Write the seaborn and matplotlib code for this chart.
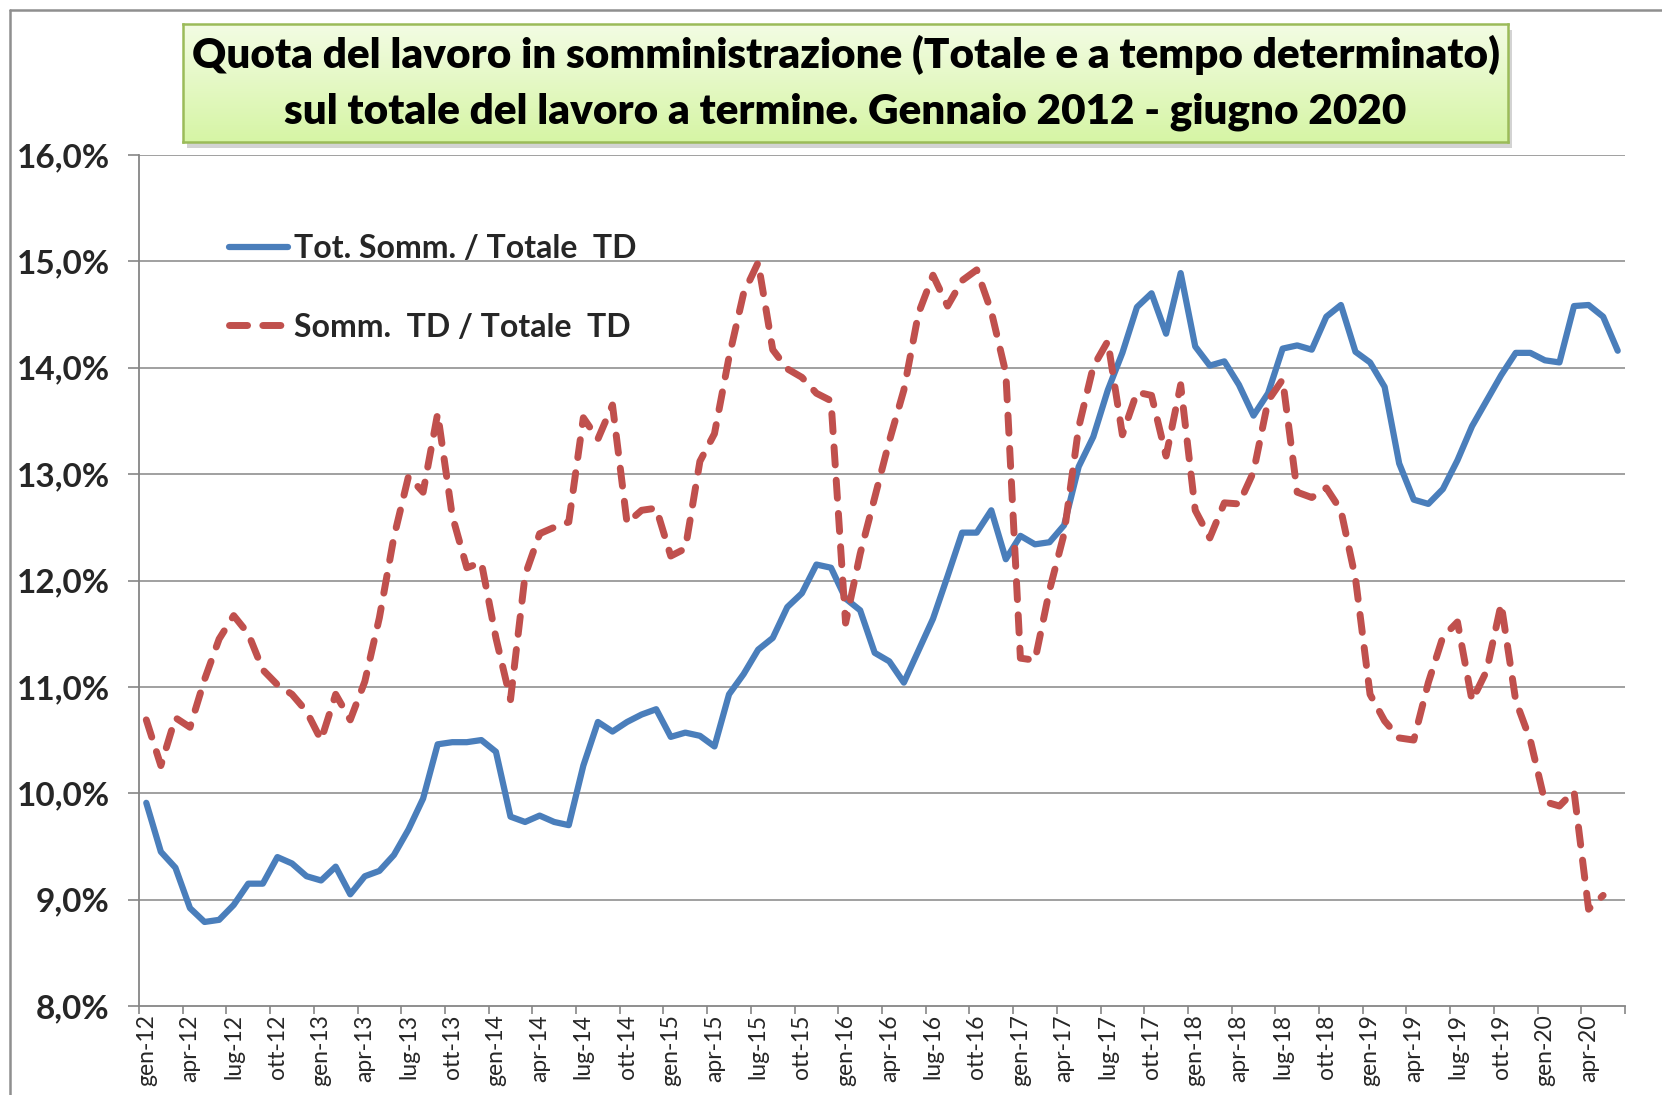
import numpy as np
import pandas as pd
import matplotlib
matplotlib.use("Agg")
import matplotlib.pyplot as plt
import seaborn as sns
from matplotlib.lines import Line2D
from matplotlib.colors import LinearSegmentedColormap

# ---------------- data ----------------
months_it = ["gen", "feb", "mar", "apr", "mag", "giu", "lug", "ago", "set", "ott", "nov", "dic"]
years = list(range(12, 21))
categories = [f"{m}-{y}" for y in years for m in months_it][:102]   # gen-12 .. giu-20

tot_somm_td = [
    9.91, 9.45, 9.30, 8.92, 8.79, 8.81, 8.95, 9.15, 9.15, 9.40, 9.34, 9.22,
    9.18, 9.31, 9.05, 9.22, 9.27, 9.42, 9.66, 9.95, 10.46, 10.48, 10.48, 10.50,
    10.39, 9.78, 9.73, 9.79, 9.73, 9.70, 10.26, 10.67, 10.58, 10.67, 10.74, 10.79,
    10.53, 10.57, 10.54, 10.44, 10.93, 11.12, 11.35, 11.46, 11.75, 11.88, 12.15, 12.12,
    11.83, 11.72, 11.32, 11.24, 11.04, 11.34, 11.64, 12.04, 12.45, 12.45, 12.66, 12.20,
    12.42, 12.34, 12.36, 12.52, 13.07, 13.35, 13.79, 14.14, 14.57, 14.70, 14.32, 14.89,
    14.20, 14.02, 14.06, 13.84, 13.55, 13.76, 14.18, 14.21, 14.17, 14.48, 14.59, 14.15,
    14.05, 13.82, 13.10, 12.76, 12.72, 12.86, 13.13, 13.45, 13.69, 13.93, 14.14, 14.14,
    14.07, 14.05, 14.58, 14.59, 14.48, 14.16,
]

somm_td_td = [
    10.69, 10.26, 10.71, 10.62, 11.07, 11.45, 11.67, 11.50, 11.16, 11.02, 10.93, 10.77,
    10.50, 10.93, 10.69, 11.05, 11.65, 12.41, 12.98, 12.83, 13.57, 12.61, 12.12, 12.17,
    11.46, 10.88, 12.05, 12.44, 12.50, 12.55, 13.53, 13.33, 13.65, 12.54, 12.66, 12.68,
    12.23, 12.30, 13.12, 13.38, 14.10, 14.70, 14.99, 14.17, 13.99, 13.91, 13.76, 13.69,
    11.60, 12.25, 12.78, 13.31, 13.79, 14.51, 14.87, 14.58, 14.82, 14.92, 14.53, 13.95,
    11.27, 11.25, 11.91, 12.44, 13.44, 14.01, 14.25, 13.37, 13.77, 13.74, 13.17, 13.84,
    12.66, 12.40, 12.73, 12.72, 13.02, 13.69, 13.89, 12.83, 12.78, 12.87, 12.66, 12.02,
    10.93, 10.68, 10.52, 10.50, 11.04, 11.47, 11.61, 10.87, 11.15, 11.78, 10.87, 10.50,
    9.92, 9.88, 10.02, 8.91, 9.04,
]

y_ticks = [8, 9, 10, 11, 12, 13, 14, 15, 16]
series_names = ["Tot. Somm. / Totale  TD", "Somm.  TD / Totale  TD"]
title_text = ("Quota del lavoro in somministrazione (Totale e a tempo determinato)\n"
              "sul totale del lavoro a termine. Gennaio 2012 - giugno 2020")

# ---------------- styling ----------------
sns.set_style("white")
FONT = ["Lato", "DejaVu Sans"]
plt.rcParams["font.family"] = FONT

W, H, DPI = 1662, 1095, 100
fig = plt.figure(figsize=(W / DPI, H / DPI), dpi=DPI)
fig.patch.set_facecolor("white")

ax = fig.add_axes([139 / W, 1 - 1006 / H, (1625 - 139) / W, (1006 - 155) / H])

df_tot = pd.DataFrame({"idx": np.arange(len(tot_somm_td)), "val": tot_somm_td})
df_td = pd.DataFrame({"idx": np.arange(len(somm_td_td)), "val": somm_td_td})

BLUE = "#4A7EBB"
RED = "#C0504D"
GRID = "#868686"

sns.lineplot(data=df_tot, x="idx", y="val", ax=ax, color=BLUE, linewidth=4.5,
             label=series_names[0], solid_capstyle="round", solid_joinstyle="round")
sns.lineplot(data=df_td, x="idx", y="val", ax=ax, color=RED, linewidth=5.0,
             label=series_names[1])
red_line = ax.lines[1]
red_line.set_dashes((2.6, 2.2))
red_line.set_dash_capstyle("round")
red_line.set_dash_joinstyle("round")

n = len(categories)
ax.set_xlim(-0.5, n - 0.5)
ax.set_ylim(8, 16)

# y axis
ax.set_yticks(y_ticks)
ax.set_yticklabels([f"{v:.1f}%".replace(".", ",") for v in y_ticks],
                   fontsize=24, fontweight="bold", family=FONT)
ax.tick_params(axis="y", length=8, width=1.2, color=GRID, pad=13, direction="out", left=True)
for v in y_ticks[1:]:
    ax.axhline(v, color=GRID, linewidth=1.1, zorder=0)

# x axis: tick marks between categories, labels on categories
ax.set_xticks(np.arange(-0.5, n, 3))
ax.set_xticklabels([])
ax.tick_params(axis="x", which="major", length=6, width=1.2, color=GRID, direction="out", bottom=True)
ax.set_xticks(np.arange(0, n, 3), minor=True)
ax.set_xticklabels([categories[i] for i in range(0, n, 3)], minor=True,
                   rotation=90, fontsize=16.5, family=FONT, va="top", ha="center")
ax.tick_params(axis="x", which="minor", length=0, pad=6)

ax.set_xlabel("")
ax.set_ylabel("")
for s in ["top", "right"]:
    ax.spines[s].set_visible(False)
for s in ["left", "bottom"]:
    ax.spines[s].set_color(GRID)
    ax.spines[s].set_linewidth(1.3)

# legend
leg = ax.legend(loc="upper left", bbox_to_anchor=(229 / W, 1 - 234 / H),
                bbox_transform=fig.transFigure, frameon=False,
                prop={"family": FONT, "weight": "bold", "size": 23},
                handlelength=1.85, handletextpad=0.2, labelspacing=1.55,
                borderpad=0, borderaxespad=0)

# outer chart frame (partially cropped)
fig.add_artist(Line2D([10 / W, 1.0], [1 - 10 / H, 1 - 10 / H], transform=fig.transFigure,
                      color="#8f8f8f", linewidth=1.8))
fig.add_artist(Line2D([10 / W, 10 / W], [0, 1 - 10 / H], transform=fig.transFigure,
                      color="#8f8f8f", linewidth=1.8))

# title box with gradient and shadow
bx0, bx1, by_top, by_bot = 183, 1508, 24, 142
shadow = fig.add_axes([(bx0 + 4) / W, 1 - (by_bot + 6) / H, (bx1 - bx0) / W, (by_bot - by_top) / H])
shadow.set_facecolor("#b0b0b0")
shadow.patch.set_alpha(0.55)
shadow.set_xticks([]); shadow.set_yticks([])
for s in shadow.spines.values():
    s.set_visible(False)

tax = fig.add_axes([bx0 / W, 1 - by_bot / H, (bx1 - bx0) / W, (by_bot - by_top) / H])
grad = np.linspace(0, 1, 256).reshape(-1, 1)
cmap = LinearSegmentedColormap.from_list("g", ["#F3FCE4", "#D6F5A5"])
tax.imshow(grad, aspect="auto", cmap=cmap, extent=[0, 1, 0, 1], origin="upper")
tax.set_xlim(0, 1); tax.set_ylim(0, 1)
tax.set_xticks([]); tax.set_yticks([])
for s in tax.spines.values():
    s.set_color("#9BBB59")
    s.set_linewidth(1.8)
tax.text(0.5, 0.5, title_text, ha="center", va="center", fontsize=30.3, fontweight="heavy",
         family=FONT, linespacing=1.55, transform=tax.transAxes, color="black")

fig.savefig("out.png", dpi=DPI, facecolor="white")
